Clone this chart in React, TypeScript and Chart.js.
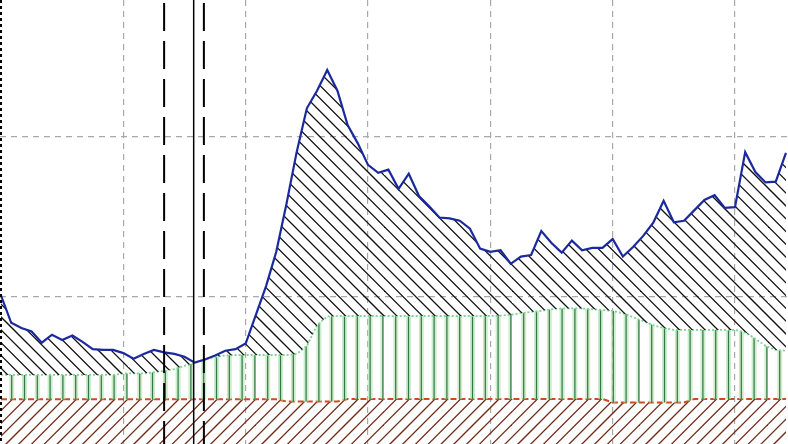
import React, { useEffect, useRef } from 'react';
import { Chart, registerables } from 'chart.js';

Chart.register(...registerables);

// Monthly series (value units: horizontal grid lines sit at 2 and 4)
const upperSeries = [
  2.01, 1.67, 1.605, 1.56, 1.42, 1.52, 1.455, 1.51, 1.43, 1.34,
  1.33, 1.33, 1.29, 1.22, 1.28, 1.33, 1.30, 1.28, 1.245, 1.17,
  1.21, 1.26, 1.32, 1.34, 1.41, 1.77, 2.13, 2.56, 3.16, 3.81,
  4.36, 4.58, 4.84, 4.58, 4.15, 3.92, 3.65, 3.55, 3.59, 3.35,
  3.54, 3.26, 3.13, 2.99, 2.98, 2.95, 2.85, 2.60, 2.56, 2.58,
  2.41, 2.50, 2.52, 2.82, 2.67, 2.55, 2.70, 2.58, 2.61, 2.61,
  2.72, 2.50, 2.62, 2.76, 2.93, 3.20, 2.93, 2.95, 3.08, 3.21,
  3.27, 3.11, 3.12, 3.81, 3.56, 3.43, 3.44, 3.80,
];

const middleSeries = [
  1.016, 1.016, 1.016, 1.016, 1.016, 1.016, 1.016, 1.016, 1.016, 1.016,
  1.016, 1.016, 1.035, 1.035, 1.035, 1.05, 1.065, 1.09, 1.13, 1.166,
  1.216, 1.24, 1.26, 1.266, 1.266, 1.266, 1.266, 1.266, 1.266, 1.28,
  1.38, 1.64, 1.75, 1.755, 1.755, 1.755, 1.755, 1.755, 1.755, 1.755,
  1.755, 1.755, 1.755, 1.755, 1.755, 1.755, 1.755, 1.755, 1.755, 1.76,
  1.77, 1.79, 1.806, 1.82, 1.84, 1.85, 1.85, 1.85, 1.84, 1.83,
  1.82, 1.79, 1.74, 1.69, 1.64, 1.605, 1.58, 1.58, 1.58, 1.58,
  1.58, 1.58, 1.58, 1.55, 1.47, 1.38, 1.33, 1.32,
];

const lowerSeries = [
  0.711, 0.711, 0.711, 0.711, 0.711, 0.711, 0.711, 0.711, 0.711, 0.711,
  0.711, 0.711, 0.711, 0.711, 0.711, 0.711, 0.711, 0.711, 0.711, 0.711,
  0.711, 0.711, 0.711, 0.711, 0.711, 0.711, 0.711, 0.711, 0.683, 0.683,
  0.683, 0.683, 0.683, 0.683, 0.715, 0.715, 0.715, 0.715, 0.715, 0.715,
  0.715, 0.715, 0.715, 0.715, 0.715, 0.715, 0.715, 0.715, 0.715, 0.715,
  0.715, 0.715, 0.715, 0.715, 0.715, 0.715, 0.715, 0.715, 0.715, 0.715,
  0.67, 0.67, 0.67, 0.67, 0.67, 0.67, 0.67, 0.67, 0.715, 0.715,
  0.715, 0.715, 0.715, 0.715, 0.715, 0.715, 0.715, 0.715,
];

const gridX = [12, 24, 36, 48, 60, 72];
const gridY = [2, 4];
const leftMarker = 0;
const dashedMarkers = [16, 19.9];
const solidMarker = 18.9;

const X_MIN = -0.1;
const X_MAX = 77.2;
const Y_MIN = 0.15;
const Y_MAX = 5.718;

function makePattern(kind: string): CanvasPattern | string {
  const c = document.createElement('canvas');
  c.width = 128;
  c.height = 128;
  const g = c.getContext('2d');
  if (!g) return 'transparent';
  const step = 12.8;
  if (kind === 'back') {
    g.strokeStyle = '#111';
    g.lineWidth = 1.3;
    for (let k = -12; k <= 12; k++) {
      const x0 = 4 + step * k;
      g.beginPath();
      g.moveTo(x0 - 10, -10);
      g.lineTo(x0 + 138, 138);
      g.stroke();
    }
  } else if (kind === 'fwd') {
    g.strokeStyle = '#6e2a16';
    g.lineWidth = 1.3;
    for (let k = -12; k <= 12; k++) {
      const x0 = 2 + step * k;
      g.beginPath();
      g.moveTo(x0 - 10, 138);
      g.lineTo(x0 + 138, -10);
      g.stroke();
    }
  } else {
    for (let k = 0; k < 10; k++) {
      const x = 11.7 + step * k;
      g.fillStyle = 'rgba(180,230,185,0.7)';
      g.fillRect(x - 2.5, 0, 5, 128);
      g.fillStyle = '#2f7a3c';
      g.fillRect(x - 0.6, 0, 1.2, 128);
    }
  }
  const p = g.createPattern(c, 'repeat');
  return p || 'transparent';
}

export default function App() {
  const ref = useRef<HTMLCanvasElement | null>(null);

  useEffect(() => {
    document.body.style.margin = '0';
    const canvas = ref.current;
    if (!canvas) return;

    const pts = (arr: number[]) => arr.map((v, i) => ({ x: i, y: v }));
    const vline = (x: number) => [
      { x, y: Y_MAX },
      { x, y: Y_MIN },
    ];

    const chart = new Chart(canvas, {
      type: 'line',
      data: {
        datasets: [
          {
            data: vline(leftMarker),
            borderColor: '#000',
            borderWidth: 2,
            borderDash: [3, 3],
            pointRadius: 0,
            fill: false,
          },
          {
            data: vline(dashedMarkers[0]),
            borderColor: '#000',
            borderWidth: 2,
            borderDash: [28, 10],
            borderDashOffset: 35,
            pointRadius: 0,
            fill: false,
          },
          {
            data: vline(solidMarker),
            borderColor: '#000',
            borderWidth: 1.5,
            pointRadius: 0,
            fill: false,
          },
          {
            data: vline(dashedMarkers[1]),
            borderColor: '#000',
            borderWidth: 2,
            borderDash: [28, 10],
            borderDashOffset: 35,
            pointRadius: 0,
            fill: false,
          },
          {
            data: pts(upperSeries),
            borderColor: '#1a2a9e',
            borderWidth: 2.2,
            pointRadius: 0,
            tension: 0,
            fill: '+1',
            backgroundColor: makePattern('back') as any,
          },
          {
            data: pts(middleSeries),
            borderColor: '#7fd393',
            borderWidth: 1.8,
            borderDash: [2, 2],
            pointRadius: 0,
            tension: 0,
            fill: '+1',
            backgroundColor: makePattern('vert') as any,
          },
          {
            data: pts(lowerSeries),
            borderColor: '#cf4a1e',
            borderWidth: 2,
            borderDash: [6, 3],
            pointRadius: 0,
            tension: 0,
            fill: 'start',
            backgroundColor: makePattern('fwd') as any,
          },
        ],
      },
      options: {
        responsive: false,
        maintainAspectRatio: false,
        animation: false,
        layout: { padding: 0 },
        plugins: { legend: { display: false }, tooltip: { enabled: false } },
        elements: { point: { radius: 0 } },
        scales: {
          x: {
            type: 'linear',
            min: X_MIN,
            max: X_MAX,
            afterBuildTicks: (axis: any) => {
              axis.ticks = gridX.map((v) => ({ value: v }));
            },
            ticks: { display: false, padding: 0 },
            grid: { color: '#a8a8a8', lineWidth: 1.2, drawTicks: false, tickLength: 0 },
            border: { display: false, dash: [6, 5] },
          },
          y: {
            type: 'linear',
            min: Y_MIN,
            max: Y_MAX,
            afterBuildTicks: (axis: any) => {
              axis.ticks = gridY.map((v) => ({ value: v }));
            },
            ticks: { display: false, padding: 0 },
            grid: { color: '#a8a8a8', lineWidth: 1.2, drawTicks: false, tickLength: 0 },
            border: { display: false, dash: [6, 5] },
          },
        },
      },
    });
    return () => chart.destroy();
  }, []);

  return (
    <div style={{ position: 'absolute', left: 0, top: 0, width: 788, height: 444, background: '#fff' }}>
      <canvas ref={ref} width={788} height={444} style={{ display: 'block' }} />
    </div>
  );
}
